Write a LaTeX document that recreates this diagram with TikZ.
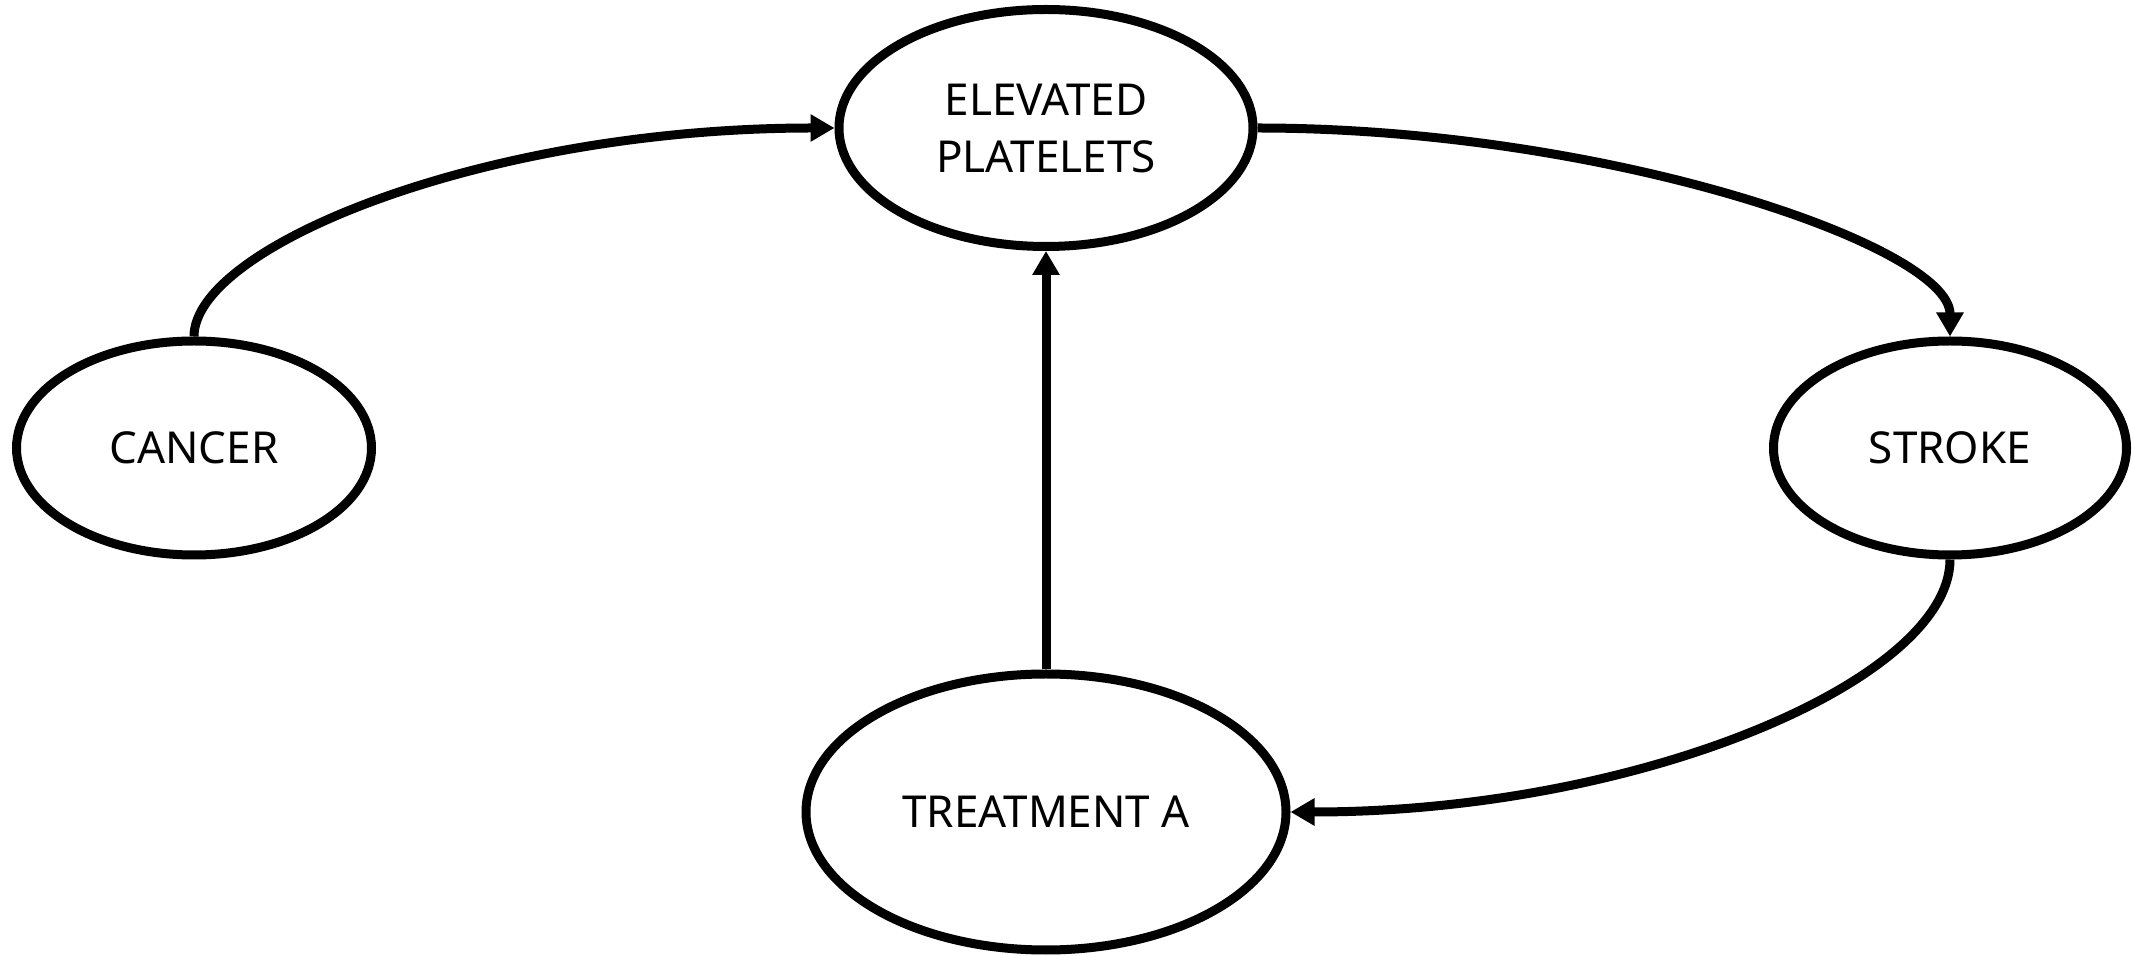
\documentclass[tikz,border=0pt]{standalone}
\usepackage{fontspec}
\setmainfont{Noto Sans}
\usetikzlibrary{shapes.geometric,arrows.meta}

\tikzset{
  bubble/.style={draw, ellipse, inner sep=0pt, align=center, font=\fontsize{22}{28.5}\selectfont},
  link/.style={-{Triangle[length=12pt,width=13pt]}}
}

\begin{document}
\begin{tikzpicture}[x=0.5pt,y=0.5pt,yscale=-1,xscale=1,line width=4.5pt]
        \useasboundingbox (0,0) rectangle (2133,956);

        %Shape: Ellipse [elevated platelets]
        \node [bubble, minimum width=207pt, minimum height=118.5pt] (plate) at (1046,128) {ELEVATED\\PLATELETS};
        %Shape: Ellipse [cancer]
        \node [bubble, minimum width=177.5pt, minimum height=107pt] (cancer) at (194,448) {CANCER};
        %Shape: Ellipse [stroke]
        \node [bubble, minimum width=176.5pt, minimum height=107pt] (stroke) at (1950,448) {STROKE};
        %Shape: Ellipse [treatment]
        \node [bubble, minimum width=240pt, minimum height=138pt] (treat) at (1046,812) {TREATMENT A};

        %Curve Lines
        \draw [link] (cancer.north) .. controls +(0,-90) and +(-350,0) .. (plate.west) ;
        %Curve Lines
        \draw [link] (plate.east) .. controls +(350,0) and +(0,-90) .. (stroke.north) ;
        %Curve Lines
        \draw [link] (stroke.south) .. controls +(0,120) and +(350,0) .. (treat.east) ;
        %Straight Lines
        \draw [link] (treat.north) -- (plate.south) ;

\end{tikzpicture}
\end{document}
